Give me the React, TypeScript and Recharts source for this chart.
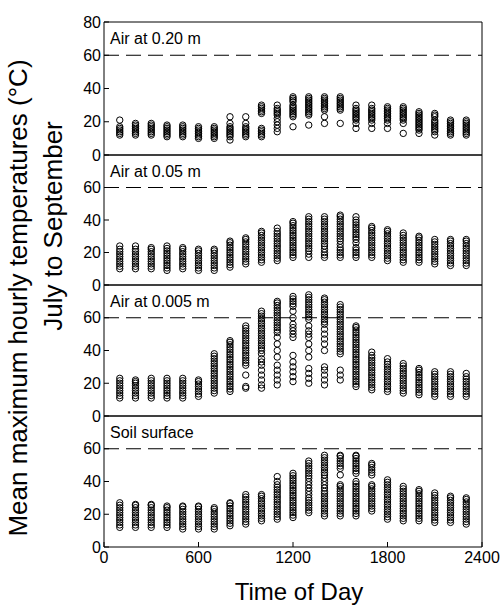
import { ScatterChart, Scatter, XAxis, YAxis, ReferenceLine } from "recharts"

const hours = [100, 200, 300, 400, 500, 600, 700, 800, 900, 1000, 1100, 1200, 1300, 1400, 1500, 1600, 1700, 1800, 1900, 2000, 2100, 2200, 2300]
const xTicks = [0, 600, 1200, 1800, 2400]
const yTicksTop = [0, 20, 40, 60, 80]
const yTicks = [0, 20, 40, 60]

// one list of temperatures per hour
const air020 = [
  [12, 13, 14, 15, 16, 17, 21],
  [12, 13, 14, 15, 16, 17, 18, 19],
  [12, 13, 14, 15, 16, 17, 18, 19],
  [11, 12, 13, 14, 15, 16, 17, 18],
  [11, 12, 13, 14, 15, 16, 17, 18],
  [10, 11, 12, 13, 14, 15, 16, 17],
  [10, 11, 12, 13, 14, 15, 16, 17],
  [9, 11, 12, 13, 14, 15, 16, 17, 19, 23],
  [11, 12, 13, 14, 15, 16, 17, 19, 23],
  [11, 12, 13, 14, 15, 16, 25, 26, 27, 28, 29, 30],
  [14, 16, 18, 20, 22, 24, 25, 26, 27, 28, 30],
  [17, 23, 24, 25, 26, 27, 28, 29, 30, 32, 33, 34, 35],
  [18, 24, 25, 26, 27, 28, 29, 30, 31, 32, 33, 34, 35],
  [19, 23, 27, 28, 29, 30, 31, 32, 33, 34, 35],
  [19, 27, 28, 29, 30, 31, 32, 33, 34, 35],
  [16, 19, 21, 22, 23, 24, 25, 26, 27, 28, 30],
  [16, 19, 21, 22, 23, 24, 25, 26, 27, 28, 30],
  [16, 19, 21, 22, 23, 24, 25, 26, 27, 28, 29],
  [13, 19, 21, 22, 23, 24, 25, 26, 27, 28, 29],
  [13, 15, 16, 17, 18, 19, 20, 21, 22, 23, 24, 25, 26],
  [12, 14, 15, 16, 17, 18, 19, 20, 21, 23, 24, 25],
  [12, 13, 14, 15, 16, 17, 18, 19, 20, 21],
  [12, 13, 14, 15, 16, 17, 18, 19, 20, 21],
]

const air005 = [
  [10, 11.5, 13, 14.5, 16, 17.5, 19, 20.5, 22, 24],
  [10, 11.5, 13, 14.5, 16, 17.5, 19, 20.5, 22, 24],
  [10, 11.5, 13, 14.5, 16, 17.5, 19, 20.5, 22, 23],
  [9, 10.5, 12, 13.5, 15, 16.5, 18, 19.5, 21, 22.5, 24],
  [10, 11.5, 13, 14.5, 16, 17.5, 19, 20.5, 22, 23],
  [9, 10.5, 12, 13.5, 15, 16.5, 18, 19.5, 21, 22],
  [9, 10.5, 12, 13.5, 15, 16.5, 18, 19.5, 21, 22],
  [11, 12.5, 14, 15.5, 17, 18.5, 20, 21.5, 23, 24.5, 26, 27],
  [13, 14.5, 16, 17.5, 19, 20.5, 22, 23.5, 25, 26.5, 28, 29],
  [14, 15.5, 17, 18.5, 20, 21.5, 23, 24.5, 26, 27.5, 29, 30.5, 32, 33],
  [15, 16.5, 18, 19.5, 21, 22.5, 24, 25.5, 27, 28.5, 30, 31.5, 33, 35],
  [17, 18.5, 20, 21.5, 23, 24.5, 26, 27.5, 29, 30.5, 32, 33.5, 35, 36.5, 38, 39],
  [17, 19, 21, 22.5, 24, 25.5, 27, 28.5, 30, 31.5, 33, 34.5, 36, 37.5, 39, 40.5, 42],
  [17, 18.5, 20, 22, 24, 25.5, 27, 28.5, 30, 31.5, 33, 34.5, 36, 37.5, 39, 40.5, 42],
  [17, 18.5, 20, 21.5, 23, 25, 27, 28.5, 30, 31.5, 33, 34.5, 36, 37.5, 39, 40.5, 42, 43],
  [17, 18.5, 20, 21.5, 23, 26, 28, 29.5, 31, 32.5, 34, 35.5, 37, 38.5, 40, 42],
  [17, 18.5, 20, 21.5, 23, 24.5, 26, 27.5, 29, 30.5, 32, 33.5, 35, 36],
  [15, 16.5, 18, 19.5, 21, 22.5, 24, 25.5, 27, 28.5, 30, 31.5, 33, 34],
  [14, 15.5, 17, 18.5, 20, 21.5, 23, 24.5, 26, 27.5, 29, 30.5, 32],
  [14, 15.5, 17, 18.5, 20, 21.5, 23, 24.5, 26, 27.5, 29, 30],
  [13, 14.5, 16, 17.5, 19, 20.5, 22, 23.5, 25, 26.5, 28],
  [12, 13.5, 15, 16.5, 18, 19.5, 21, 22.5, 24, 25.5, 27, 28],
  [12, 13.5, 15, 16.5, 18, 19.5, 21, 22.5, 24, 25.5, 27, 28],
]

const air0005 = [
  [11, 12.5, 14, 15.5, 17, 18.5, 20, 21.5, 23],
  [11, 12.5, 14, 15.5, 17, 18.5, 20, 21, 22],
  [11, 12.5, 14, 15.5, 17, 18.5, 20, 21.5, 23],
  [11, 12.5, 14, 15.5, 17, 18.5, 20, 21.5, 23],
  [11, 12.5, 14, 15.5, 17, 18.5, 20, 21.5, 23],
  [12, 13.5, 15, 16.5, 18, 19.5, 21, 22],
  [14, 15.5, 17, 18.5, 20, 21.5, 23, 24.5, 26, 27.5, 29, 30.5, 32, 33.5, 35, 36.5, 38],
  [15, 16.5, 18, 19.5, 21, 22.5, 24, 25.5, 27, 28.5, 30, 31.5, 33, 34.5, 36, 37.5, 39, 40.5, 42, 43.5, 45, 46],
  [17, 18, 25, 31, 32.5, 34, 35.5, 37, 38.5, 40, 41.5, 43, 44.5, 46, 47.5, 49, 50.5, 52, 53.5, 55],
  [17, 19, 22, 25, 28, 31, 33, 35, 38, 40, 41.5, 43, 44.5, 46, 47.5, 49, 50.5, 52, 53.5, 55, 56.5, 58, 59.5, 61, 62.5, 64],
  [19, 22, 25, 28, 31, 36, 40, 44, 48, 51, 52.5, 54, 55.5, 57, 58.5, 60, 61.5, 63, 64.5, 66, 67.5, 69, 70],
  [21, 24, 27, 30, 33, 37, 48, 50, 52, 54, 56, 60, 64, 67, 68.5, 70, 71.5, 73],
  [20, 23, 26, 29, 36, 40, 44, 48, 50, 52, 55, 59, 60.5, 62, 63.5, 65, 66.5, 68, 69.5, 71, 72.5, 74],
  [19, 22, 25, 28, 30, 40, 44, 47, 50, 53, 56, 57.5, 59, 60.5, 62, 63.5, 65, 66.5, 68, 69.5, 71, 72],
  [22, 25, 28, 38, 39.5, 41, 42.5, 44, 45.5, 47, 48.5, 50, 51.5, 53, 54.5, 56, 57.5, 59, 60.5, 62, 63.5, 65, 66.5, 68],
  [18, 19.5, 21, 22.5, 24, 25.5, 27, 28.5, 30, 31.5, 33, 34.5, 36, 37.5, 39, 40.5, 42, 43.5, 45, 46.5, 48, 49.5, 51, 52.5, 54, 55],
  [16, 17.5, 19, 20.5, 22, 23.5, 25, 26.5, 28, 29.5, 31, 32.5, 34, 35.5, 37, 39],
  [15, 16.5, 18, 19.5, 21, 22.5, 24, 25.5, 27, 28.5, 30, 31.5, 33, 35],
  [14, 15.5, 17, 18.5, 20, 21.5, 23, 24.5, 26, 27.5, 29, 30.5, 32],
  [13, 14.5, 16, 17.5, 19, 20.5, 22, 23.5, 25, 26.5, 28, 29],
  [12, 13.5, 15, 16.5, 18, 19.5, 21, 22.5, 24, 25.5, 27],
  [12, 13.5, 15, 16.5, 18, 19.5, 21, 22.5, 24, 25.5, 27],
  [12, 13.5, 15, 16.5, 18, 19.5, 21, 22.5, 24, 26],
]

const soil = [
  [12, 13.5, 15, 16.5, 18, 19.5, 21, 22.5, 24, 25.5, 27],
  [12, 13.5, 15, 16.5, 18, 19.5, 21, 22.5, 24, 25.5, 26],
  [12, 13.5, 15, 16.5, 18, 19.5, 21, 22.5, 24, 25.5, 26],
  [12, 13.5, 15, 16.5, 18, 19.5, 21, 22.5, 24, 25],
  [11, 12.5, 14, 15.5, 17, 18.5, 20, 21.5, 23, 24.5, 25],
  [11, 12.5, 14, 15.5, 17, 18.5, 20, 21.5, 23, 24.5, 25],
  [11, 12.5, 14, 15.5, 17, 18.5, 20, 21.5, 23, 24],
  [13, 14.5, 16, 17.5, 19, 20.5, 22, 23.5, 25, 26.5, 27],
  [14, 15.5, 17, 18.5, 20, 21.5, 23, 24.5, 26, 27.5, 29, 30.5, 32],
  [16, 17.5, 19, 20.5, 22, 23.5, 25, 26.5, 28, 29.5, 31, 32],
  [17, 18.5, 20, 21.5, 23, 24.5, 26, 27.5, 29, 30.5, 32, 33.5, 35, 36.5, 38, 40, 43],
  [18, 19.5, 21, 22.5, 24, 25.5, 27, 28.5, 30, 31.5, 33, 34.5, 36, 37.5, 39, 40.5, 42, 43.5, 45],
  [21, 22.5, 24, 25.5, 27, 28.5, 30, 32, 34, 36, 38, 40, 42, 43.5, 45, 46.5, 48, 49.5, 51, 52.5],
  [19, 20.5, 22, 23.5, 25, 26.5, 28, 29.5, 31, 32.5, 34, 36, 38, 40, 42, 44, 45.5, 47, 48.5, 50, 51.5, 53, 54.5, 56],
  [19, 20.5, 22, 23.5, 25, 26.5, 28, 29.5, 31, 32.5, 34, 35.5, 37, 38, 44, 48, 49.5, 51, 52.5, 54, 55.5, 56],
  [19, 20.5, 22, 23.5, 25, 26.5, 28, 29.5, 31, 32.5, 34, 35.5, 37, 38.5, 40, 45, 46.5, 48, 49.5, 51, 52.5, 54, 55.5, 56],
  [22, 23.5, 25, 26.5, 28, 29.5, 31, 32.5, 34, 35.5, 37, 38, 44, 45.5, 47, 48.5, 50, 51],
  [17, 18.5, 20, 21.5, 23, 24.5, 26, 27.5, 29, 30.5, 32, 33.5, 35, 36.5, 38, 39.5, 41],
  [16, 17.5, 19, 20.5, 22, 23.5, 25, 26.5, 28, 29.5, 31, 32.5, 34, 35.5, 37],
  [16, 17.5, 19, 20.5, 22, 23.5, 25, 26.5, 28, 29.5, 31, 32.5, 34, 35],
  [15, 16.5, 18, 19.5, 21, 22.5, 24, 25.5, 27, 28.5, 30, 31.5, 33],
  [15, 16.5, 18, 19.5, 21, 22.5, 24, 25.5, 27, 28.5, 30, 31],
  [14, 15.5, 17, 18.5, 20, 21.5, 23, 24.5, 26, 27.5, 29, 30],
]

const font = "'Liberation Sans', Arial, sans-serif"

const toPoints = (cols: number[][]) =>
  hours.flatMap((h, i) => cols[i].map((t) => ({ hour: h, temp: t })))

const ring = (p: any) => (
  <circle cx={p.cx} cy={p.cy} r={3.2} fill="none" stroke="#000" strokeWidth={1} />
)

const panels = [
  { label: "Air at 0.20 m", cols: air020, top: 22, h: 133, ticks: yTicksTop },
  { label: "Air at 0.05 m", cols: air005, top: 155, h: 130, ticks: yTicks },
  { label: "Air at 0.005 m", cols: air0005, top: 285, h: 131, ticks: yTicks },
  { label: "Soil surface", cols: soil, top: 416, h: 131, ticks: yTicks },
]

const pad = 12

function Panel({ cols, top, h, ticks, showX }: any) {
  const xH = showX ? 34 : 1
  return (
    <div style={{ position: "absolute", left: 0, top: top - pad }}>
      <ScatterChart width={502} height={pad + h + xH + pad} margin={{ top: pad, right: 0, bottom: pad, left: 64 }}>
        <XAxis
          type="number"
          dataKey="hour"
          domain={[0, 2400]}
          ticks={xTicks}
          interval={0}
          height={xH}
          stroke="#000"
          tickSize={-5}
          tickMargin={10}
          tick={showX ? { fill: "#000", fontSize: 16, fontFamily: font } : false}
        />
        <YAxis
          type="number"
          dataKey="temp"
          domain={[0, 80]}
          ticks={ticks}
          interval={0}
          width={40}
          stroke="#000"
          tickSize={-5}
          tickMargin={8}
          tick={{ fill: "#000", fontSize: 16, fontFamily: font }}
        />
        <YAxis
          yAxisId="r"
          orientation="right"
          type="number"
          domain={[0, 80]}
          ticks={ticks}
          interval={0}
          width={20}
          stroke="#000"
          tickSize={-5}
          tick={false}
        />
        <ReferenceLine y={80} stroke="#000" />
        <ReferenceLine y={60} stroke="#000" strokeWidth={1.2} strokeDasharray="15 7" />
        <Scatter data={toPoints(cols)} shape={ring} isAnimationActive={false} />
      </ScatterChart>
    </div>
  )
}

export default function App() {
  return (
    <div style={{ position: "absolute", left: 0, top: 0, width: 502, height: 605, background: "#fff", fontFamily: font }}>
      {panels.map((p, i) => (
        <Panel key={p.label} {...p} showX={i === panels.length - 1} />
      ))}
      <svg width={502} height={605} style={{ position: "absolute", left: 0, top: 0, pointerEvents: "none" }}>
        {panels.map((p) => (
          <text key={p.label} x={110} y={p.top + 22} fontSize={16} fontFamily={font} fill="#000">
            {p.label}
          </text>
        ))}
        <text x={299} y={600} fontSize={24} fontFamily={font} textAnchor="middle" fill="#000">
          Time of Day
        </text>
        <text transform="translate(27,298) rotate(-90)" fontSize={26} fontFamily={font} textAnchor="middle" fill="#000">
          Mean maximum hourly temperatures (°C)
        </text>
        <text transform="translate(62,226) rotate(-90)" fontSize={26} fontFamily={font} textAnchor="middle" fill="#000">
          July to September
        </text>
      </svg>
    </div>
  )
}
